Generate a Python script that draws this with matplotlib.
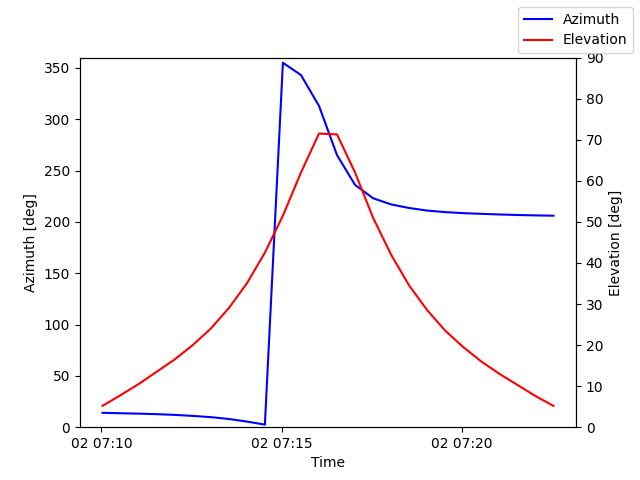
import numpy as np
import pandas as pd
import matplotlib
matplotlib.use("Agg")
import matplotlib.pyplot as plt
import matplotlib.dates as mdates

times = pd.date_range("2024-01-02 07:10:02", periods=26, freq="30s")
azimuth = [14, 13.6, 13.2, 12.7, 12, 11, 9.8, 8, 5.5, 2.5,
           355, 343, 313, 265, 236, 223, 217, 213.5, 211, 209.5,
           208.5, 207.8, 207.2, 206.7, 206.3, 206]
elevation = [5.2, 7.8, 10.5, 13.5, 16.5, 20, 24, 29, 35, 42.5,
             51.5, 62, 71.5, 71.3, 62, 51, 42, 34.5, 28.5, 23.5,
             19.5, 16, 13, 10.3, 7.6, 5.2]

fig, ax = plt.subplots(figsize=(6.4, 4.8), dpi=100)
ax.plot(times, azimuth, color="blue", label="Azimuth")
ax.set_ylim(0, 360)
ax.set_ylabel("Azimuth [deg]")
ax.set_xlabel("Time")
ax.xaxis.set_major_locator(mdates.MinuteLocator(byminute=[10, 15, 20]))
ax.xaxis.set_major_formatter(mdates.DateFormatter("%d %H:%M"))

ax2 = ax.twinx()
ax2.plot(times, elevation, color="red", label="Elevation")
ax2.set_ylim(0, 90)
ax2.set_ylabel("Elevation [deg]")

fig.legend(loc="upper right")
fig.savefig("out.png")
